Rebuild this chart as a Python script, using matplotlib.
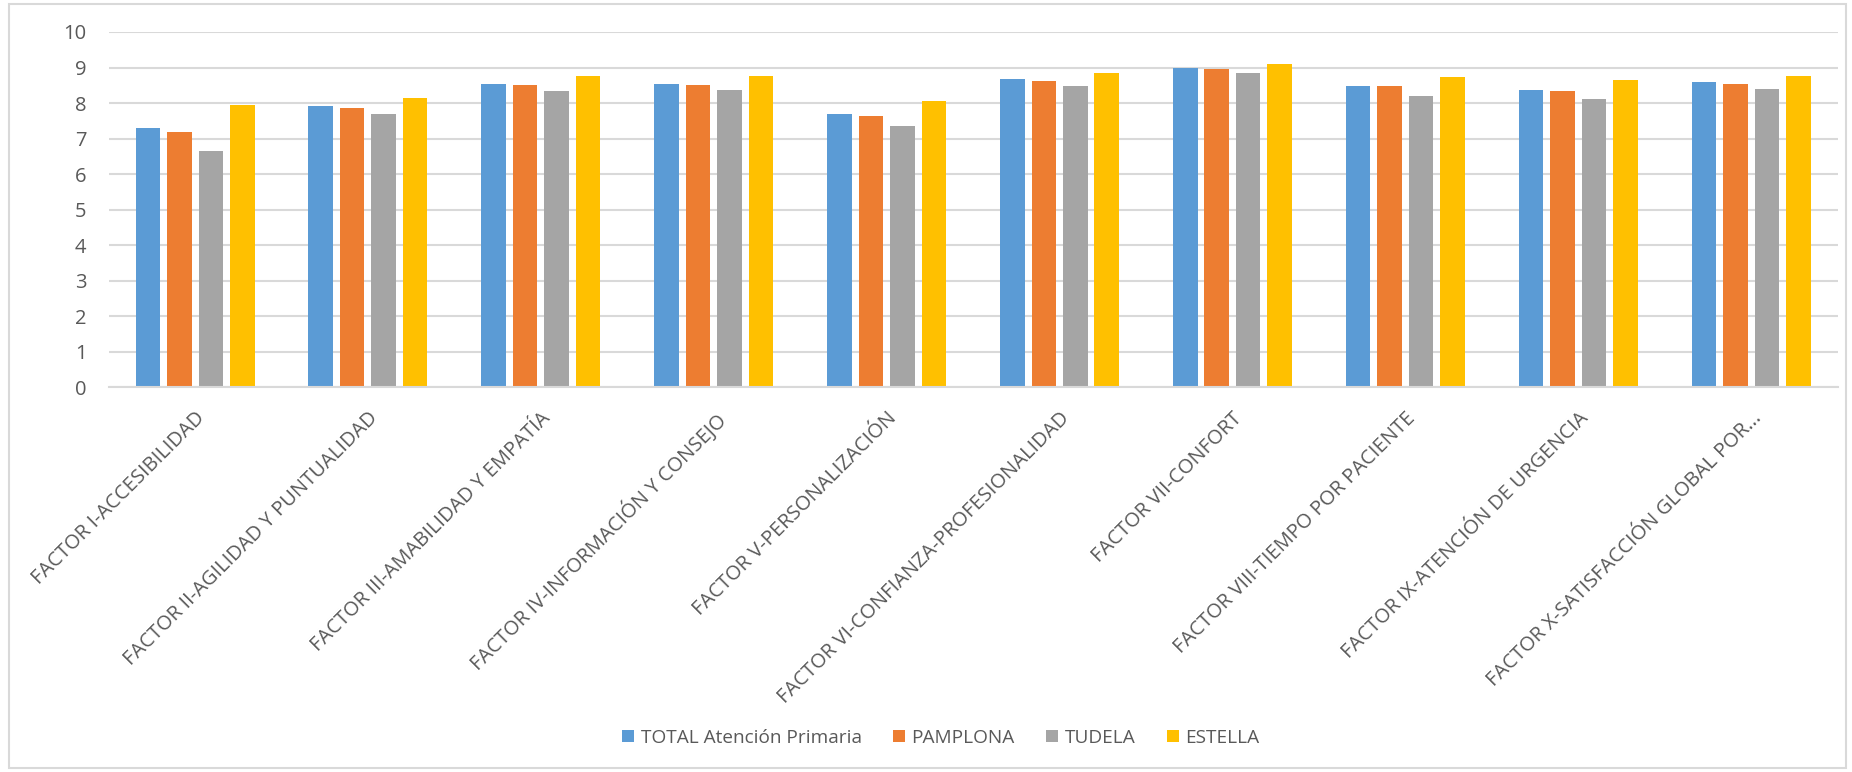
import matplotlib
matplotlib.use("Agg")
import matplotlib.pyplot as plt
import numpy as np
from matplotlib.patches import Rectangle

plt.rcParams["font.family"] = ["Open Sans", "DejaVu Sans"]

categories = [
    "FACTOR I-ACCESIBILIDAD",
    "FACTOR II-AGILIDAD Y PUNTUALIDAD",
    "FACTOR III-AMABILIDAD Y EMPATÍA",
    "FACTOR IV-INFORMACIÓN Y CONSEJO",
    "FACTOR V-PERSONALIZACIÓN",
    "FACTOR VI-CONFIANZA-PROFESIONALIDAD",
    "FACTOR VII-CONFORT",
    "FACTOR VIII-TIEMPO POR PACIENTE",
    "FACTOR IX-ATENCIÓN DE URGENCIA",
    "FACTOR X-SATISFACCIÓN GLOBAL POR...",
]
series_names = ["TOTAL Atención Primaria", "PAMPLONA", "TUDELA", "ESTELLA"]
total = [7.31, 7.91, 8.54, 8.54, 7.70, 8.68, 8.99, 8.49, 8.38, 8.59]
pamplona = [7.20, 7.87, 8.50, 8.51, 7.64, 8.63, 8.95, 8.49, 8.33, 8.55]
tudela = [6.64, 7.70, 8.35, 8.36, 7.36, 8.49, 8.86, 8.21, 8.11, 8.41]
estella = [7.94, 8.15, 8.75, 8.75, 8.05, 8.86, 9.09, 8.72, 8.65, 8.75]
yticks = list(range(0, 11))

colors = ["#5B9BD5", "#ED7D31", "#A5A5A5", "#FFC000"]
text_color = "#595959"
grid_color = "#D9D9D9"

W, H = 1852, 772
fig = plt.figure(figsize=(W / 100, H / 100), dpi=100)
ax = fig.add_axes([108.6 / W, 1 - 387.4 / H, 1729 / W, (387.4 - 32) / H])

x = np.arange(len(categories))
step = 0.182
width = 0.142
for i, (vals, name, c) in enumerate(zip([total, pamplona, tudela, estella], series_names, colors)):
    ax.bar(x + (i - 1.5) * step, vals, width=width, color=c, label=name, zorder=3)

ax.set_xlim(-0.5, len(categories) - 0.5)
ax.set_ylim(0, 10)
ax.set_yticks(yticks)
ax.set_yticklabels([str(t) for t in yticks])
ax.yaxis.grid(True, color=grid_color, linewidth=1.5, zorder=0)
ax.set_axisbelow(True)
for s in ["top", "right", "left"]:
    ax.spines[s].set_visible(False)
ax.spines["bottom"].set_color(grid_color)
ax.spines["bottom"].set_linewidth(1.5)
ax.spines["bottom"].set_zorder(4)

ax.tick_params(axis="y", length=0, pad=16, labelsize=14.5, labelcolor=text_color)
ax.tick_params(axis="x", length=0, pad=15, labelsize=14.5, labelcolor=text_color)
ax.set_xticks(x)
ax.set_xticklabels(categories, rotation=45, ha="right", va="top", rotation_mode="anchor")

fig.legend(loc="center", bbox_to_anchor=(0.508, 1 - 738 / H), ncol=4, frameon=False,
           fontsize=13.7, labelcolor=text_color, handlelength=0.62, handleheight=0.62,
           handletextpad=0.35, columnspacing=1.65)

fig.patches.append(Rectangle((9 / W, 4 / H), (1846 - 9) / W, (768 - 4) / H,
                             transform=fig.transFigure, fill=False,
                             edgecolor=grid_color, linewidth=1.5))

fig.savefig("out.png", dpi=100)
